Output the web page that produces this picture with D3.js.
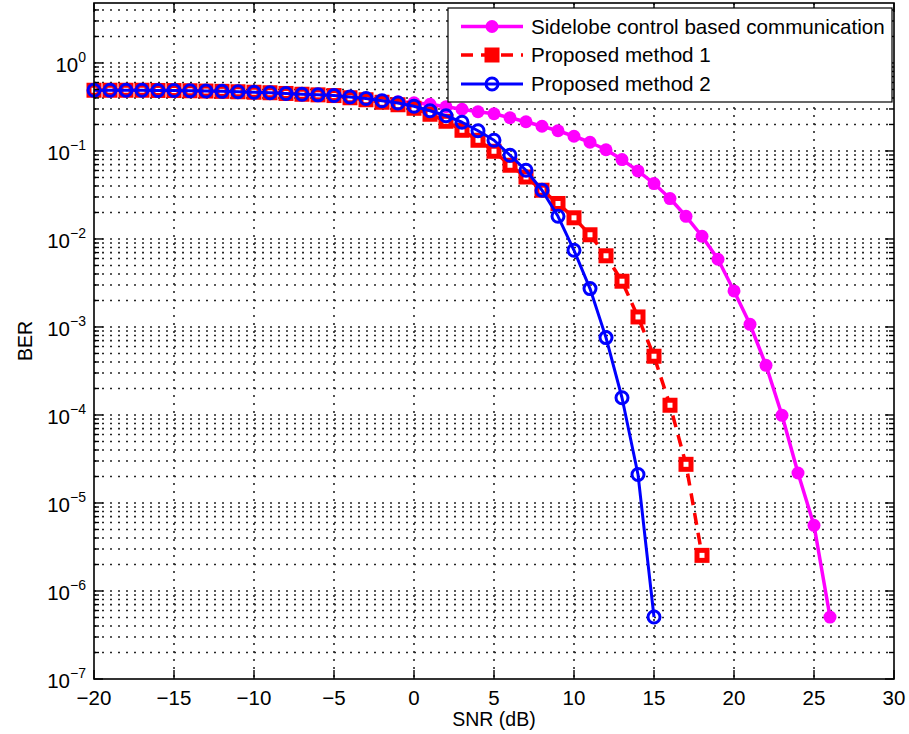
<!DOCTYPE html>
<html>
<head>
<meta charset="utf-8">
<script src="https://cdn.jsdelivr.net/npm/d3@7/dist/d3.min.js"></script>
<style>
  body { margin: 0; background: #fff; }
  svg text { font-family: "Liberation Sans", Arial, sans-serif; fill: #000; }
</style>
</head>
<body>
<svg id="chart" width="909" height="734"></svg>
<script>
// SNR grids (dB) for each curve
const snrSidelobe = [-20,-19,-18,-17,-16,-15,-14,-13,-12,-11,-10,-9,-8,-7,-6,-5,-4,-3,-2,-1,0,1,2,3,4,5,6,7,8,9,10,11,12,13,14,15,16,17,18,19,20,21,22,23,24,25,26];
const snrMethod1  = [-20,-19,-18,-17,-16,-15,-14,-13,-12,-11,-10,-9,-8,-7,-6,-5,-4,-3,-2,-1,0,1,2,3,4,5,6,7,8,9,10,11,12,13,14,15,16,17,18];
const snrMethod2  = [-20,-19,-18,-17,-16,-15,-14,-13,-12,-11,-10,-9,-8,-7,-6,-5,-4,-3,-2,-1,0,1,2,3,4,5,6,7,8,9,10,11,12,13,14,15];

// Bit error rates
const berSidelobe = [0.4896,0.4896,0.4896,0.4896,0.4870,0.4857,0.4831,0.4794,0.4757,0.4707,0.4646,0.4586,0.4502,0.4409,0.4340,0.4261,0.4108,0.3940,0.3720,0.3622,0.3529,0.3394,0.3179,0.2978,0.2790,0.2647,0.2384,0.2147,0.1909,0.1696,0.1469,0.1256,0.1032,0.0798,0.0593,0.0426,0.0288,0.0181,0.01073,0.00588,0.002565,0.001073,3.67e-4,9.92e-5,2.19e-5,5.58e-6,5.06e-7];
const berMethod1  = [0.4896,0.4896,0.4896,0.4896,0.4870,0.4857,0.4831,0.4794,0.4757,0.4707,0.4646,0.4586,0.4502,0.4409,0.4340,0.4261,0.4023,0.3818,0.3575,0.3350,0.3055,0.2612,0.2175,0.1718,0.1323,0.0992,0.0688,0.0506,0.0358,0.0253,0.0174,0.01116,0.00644,0.00331,0.0013,4.65e-4,1.29e-4,2.75e-5,2.54e-6];
const berMethod2  = [0.4896,0.4896,0.4896,0.4896,0.4870,0.4857,0.4831,0.4794,0.4757,0.4707,0.4646,0.4586,0.4502,0.4409,0.4340,0.4261,0.4108,0.3940,0.3720,0.3511,0.3221,0.2863,0.2512,0.2119,0.1696,0.1323,0.0894,0.0604,0.0358,0.0181,0.00744,0.00273,7.57e-4,1.57e-4,2.11e-5,5.06e-7];

const seriesNames = ["Sidelobe control based communication", "Proposed method 1", "Proposed method 2"];
const xTickValues = [-20,-15,-10,-5,0,5,10,15,20,25,30];
const yDecadeExponents = [-7,-6,-5,-4,-3,-2,-1,0];
const xLabel = "SNR (dB)";
const yLabel = "BER";

const svg = d3.select("#chart");
const plot = { left: 94, right: 894, top: 3, bottom: 679 };

const x = d3.scaleLinear().domain([-20, 30]).range([plot.left, plot.right]);
const y = d3.scaleLog().domain([1e-7, 4.8]).range([plot.bottom, plot.top]);

// ---- dotted grid ----
const grid = svg.append("g").attr("stroke", "#000").attr("stroke-width", 1.6)
  .attr("stroke-dasharray", "2,6").attr("fill", "none").attr("opacity", 0.85);

grid.selectAll("line.vx")
  .data(xTickValues.filter(v => v > -20 && v < 30))
  .join("line")
  .attr("x1", d => x(d)).attr("x2", d => x(d))
  .attr("y1", plot.top).attr("y2", plot.bottom);

const minorVals = [];
yDecadeExponents.forEach(e => {
  for (let k = 1; k <= 9; k++) {
    const v = k * Math.pow(10, e);
    if (v > 1e-7 * 1.0001 && v < y.domain()[1]) minorVals.push(v);
  }
});
grid.selectAll("line.hy")
  .data(minorVals)
  .join("line")
  .attr("x1", plot.left).attr("x2", plot.right)
  .attr("y1", d => y(d)).attr("y2", d => y(d));

// ---- curves ----
const line = d3.line().x(d => x(d[0])).y(d => y(d[1]));
const dataSidelobe = d3.zip(snrSidelobe, berSidelobe);
const dataMethod1 = d3.zip(snrMethod1, berMethod1);
const dataMethod2 = d3.zip(snrMethod2, berMethod2);

// magenta curve with filled dots
svg.append("path").datum(dataSidelobe).attr("d", line)
  .attr("fill", "none").attr("stroke", "#ff00ff").attr("stroke-width", 3.5)
  .attr("stroke-linejoin", "round");
svg.append("g").selectAll("circle").data(dataSidelobe).join("circle")
  .attr("cx", d => x(d[0])).attr("cy", d => y(d[1])).attr("r", 6.5)
  .attr("fill", "#ff00ff");

// red dashed curve with square markers
svg.append("path").datum(dataMethod1).attr("d", line)
  .attr("fill", "none").attr("stroke", "#ff0000").attr("stroke-width", 3.5)
  .attr("stroke-dasharray", "12,8");
svg.append("g").selectAll("rect").data(dataMethod1).join("rect")
  .attr("x", d => x(d[0]) - 5).attr("y", d => y(d[1]) - 5)
  .attr("width", 10).attr("height", 10)
  .attr("fill", "#fff").attr("stroke", "#ff0000").attr("stroke-width", 5);

// blue curve with open circles
svg.append("path").datum(dataMethod2).attr("d", line)
  .attr("fill", "none").attr("stroke", "#0000ff").attr("stroke-width", 3)
  .attr("stroke-linejoin", "round");
svg.append("g").selectAll("circle").data(dataMethod2).join("circle")
  .attr("cx", d => x(d[0])).attr("cy", d => y(d[1])).attr("r", 6)
  .attr("fill", "none").attr("stroke", "#0000ff").attr("stroke-width", 3);

// ---- axes box and ticks ----
const axes = svg.append("g").attr("stroke", "#000");
axes.append("rect")
  .attr("x", plot.left).attr("y", plot.top)
  .attr("width", plot.right - plot.left).attr("height", plot.bottom - plot.top)
  .attr("fill", "none").attr("stroke-width", 1.6);

xTickValues.forEach(v => {
  axes.append("line").attr("x1", x(v)).attr("x2", x(v))
    .attr("y1", plot.bottom).attr("y2", plot.bottom - 9).attr("stroke-width", 1.4);
  axes.append("line").attr("x1", x(v)).attr("x2", x(v))
    .attr("y1", plot.top).attr("y2", plot.top + 9).attr("stroke-width", 1.4);
});
minorVals.concat([1e-7]).forEach(v => {
  const major = Math.abs(Math.log10(v) - Math.round(Math.log10(v))) < 1e-9;
  const len = major ? 9 : 5;
  axes.append("line").attr("x1", plot.left).attr("x2", plot.left + len)
    .attr("y1", y(v)).attr("y2", y(v)).attr("stroke-width", 1.4);
  axes.append("line").attr("x1", plot.right).attr("x2", plot.right - len)
    .attr("y1", y(v)).attr("y2", y(v)).attr("stroke-width", 1.4);
});

// x tick labels
svg.append("g").selectAll("text").data(xTickValues).join("text")
  .attr("x", d => x(d)).attr("y", plot.bottom + 26)
  .attr("text-anchor", "middle").attr("font-size", 20.5)
  .text(d => d < 0 ? "\u2212" + Math.abs(d) : String(d));

// y tick labels: 10 with superscript exponent
const yl = svg.append("g").selectAll("text").data(yDecadeExponents).join("text")
  .attr("x", 86).attr("y", d => y(Math.pow(10, d)) + 9)
  .attr("text-anchor", "end").attr("font-size", 20.5);
yl.append("tspan").text("10");
yl.append("tspan").attr("font-size", 14).attr("dy", -10)
  .text(d => d < 0 ? "\u2212" + Math.abs(d) : String(d));

// axis titles
svg.append("text").attr("x", (plot.left + plot.right) / 2).attr("y", 726)
  .attr("text-anchor", "middle").attr("font-size", 19.5).text(xLabel);
svg.append("text").attr("transform", `translate(32, ${(plot.top + plot.bottom) / 2}) rotate(-90)`)
  .attr("text-anchor", "middle").attr("font-size", 19.5).text(yLabel);

// ---- legend ----
const lg = svg.append("g");
lg.append("rect").attr("x", 448).attr("y", 8).attr("width", 444).attr("height", 94)
  .attr("fill", "#fff").attr("stroke", "#000").attr("stroke-width", 1.2);
const rowY = [26.5, 55, 84];
const x0 = 461, x1 = 523, xm = (x0 + x1) / 2;
// row 1
lg.append("line").attr("x1", x0).attr("x2", x1).attr("y1", rowY[0]).attr("y2", rowY[0])
  .attr("stroke", "#ff00ff").attr("stroke-width", 3.5);
lg.append("circle").attr("cx", xm).attr("cy", rowY[0]).attr("r", 6.5).attr("fill", "#ff00ff");
// row 2
lg.append("line").attr("x1", x0).attr("x2", x1).attr("y1", rowY[1]).attr("y2", rowY[1])
  .attr("stroke", "#ff0000").attr("stroke-width", 3.5).attr("stroke-dasharray", "12,8");
lg.append("rect").attr("x", xm - 5).attr("y", rowY[1] - 5).attr("width", 10).attr("height", 10)
  .attr("fill", "#ff0000").attr("stroke", "#ff0000").attr("stroke-width", 5);
// row 3
lg.append("line").attr("x1", x0).attr("x2", x1).attr("y1", rowY[2]).attr("y2", rowY[2])
  .attr("stroke", "#0000ff").attr("stroke-width", 3);
lg.append("circle").attr("cx", xm).attr("cy", rowY[2]).attr("r", 6).attr("fill", "none")
  .attr("stroke", "#0000ff").attr("stroke-width", 3);

lg.selectAll("text.lbl").data(seriesNames).join("text")
  .attr("x", 531).attr("y", (d, i) => rowY[i] + 7)
  .attr("font-size", 20.6).text(d => d);
</script>
</body>
</html>
